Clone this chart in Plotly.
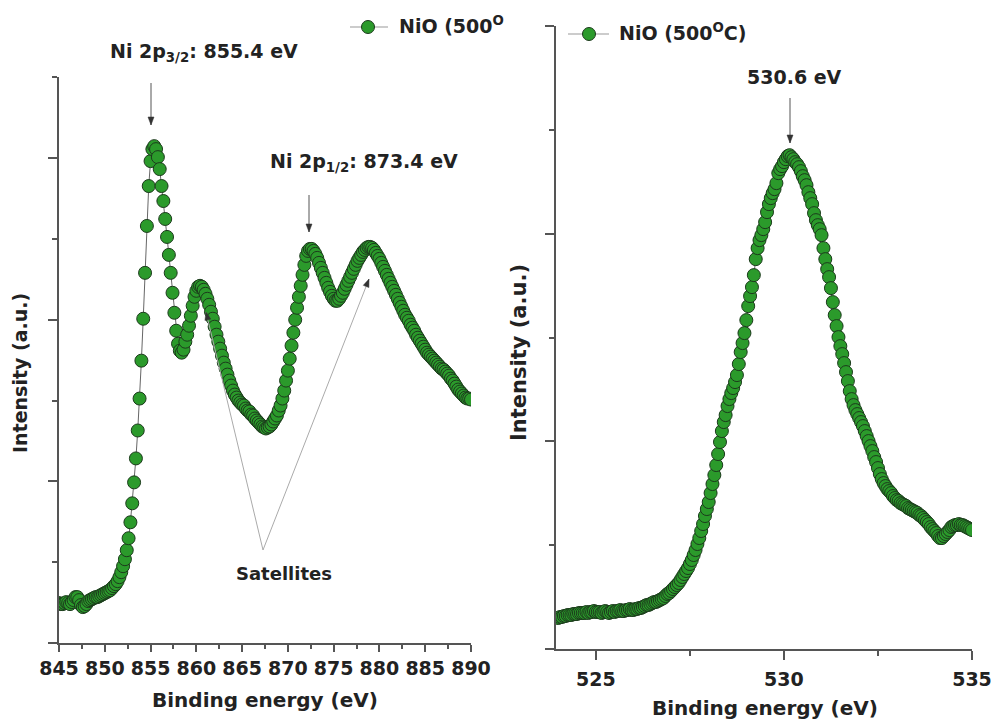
import math
import plotly.graph_objects as go

W, H = 993, 722
FONT = "DejaVu Sans"
TXT = "#222222"
AX = "#555555"

# ---------------- data ----------------
# Ni 2p region, binding energy grid 845.0 .. 890.0 eV (0.2 eV steps)
ni_start, ni_step = 845.0, 0.2
ni_intensity = [
    40, 39, 39, 40, 41, 40, 39, 41, 43, 46,
    46, 43, 38, 36, 37, 39, 42, 43, 44, 45,
    46, 46, 47, 48, 49, 50, 51, 52, 53, 55,
    57, 59, 62, 66, 71, 77, 84, 93, 105, 121,
    140, 161, 185, 213, 245, 283, 325, 371, 418, 458,
    483, 495, 498, 495, 487, 475, 458, 443, 425, 407,
    389, 371, 351, 331, 313, 300, 293, 291, 294, 302,
    309, 318, 328, 338, 347, 353, 357, 358, 357, 354,
    350, 345, 339, 332, 325, 317, 309, 302, 295, 288,
    281, 275, 269, 263, 258, 253, 249, 246, 243, 241,
    239, 238, 235, 233, 232, 229, 228, 225, 223, 221,
    219, 217, 216, 215, 216, 217, 219, 222, 225, 228,
    233, 238, 245, 253, 263, 273, 285, 298, 311, 324,
    336, 347, 358, 369, 379, 388, 393, 395, 395, 393,
    390, 386, 381, 376, 371, 366, 361, 356, 352, 348,
    345, 343, 343, 345, 348, 351, 355, 359, 363, 367,
    371, 375, 379, 383, 386, 389, 392, 394, 396, 397,
    397, 396, 394, 391, 388, 385, 381, 377, 373, 369,
    365, 361, 357, 353, 349, 345, 341, 337, 333, 329,
    326, 323, 319, 316, 313, 309, 306, 303, 300, 297,
    294, 291, 289, 287, 285, 283, 281, 279, 277, 275,
    274, 272, 270, 268, 265, 263, 260, 257, 254, 252,
    250, 248, 246, 245, 245, 244,
]
ni_energy = [round(ni_start + i * ni_step, 2) for i in range(len(ni_intensity))]

# O 1s region, binding energy grid 524.00 .. 535.00 eV (0.05 eV steps)
o_start, o_step = 524.0, 0.05
o_intensity = [
    31, 32, 32, 33, 33, 34, 34, 34, 35, 35, 35, 36, 36, 36, 36, 37, 36, 37, 37, 38,
    37, 37, 37, 36, 37, 38, 37, 36, 37, 38, 37, 38, 38, 39, 38, 38, 39, 39, 40, 39,
    39, 40, 40, 41, 41, 42, 43, 44, 44, 45, 46, 47, 47, 48, 49, 50, 51, 53, 55, 56,
    58, 60, 62, 64, 66, 69, 72, 75, 78, 81, 85, 89, 94, 99, 105, 111, 118, 125, 133, 140,
    147, 156, 165, 174, 184, 195, 207, 218, 227, 234, 243, 250, 256, 261, 267, 274, 285, 297, 306, 316,
    329, 343, 353, 362, 374, 390, 401, 409, 414, 420, 427, 437, 445, 451, 456, 460, 466, 476, 480, 483,
    487, 490, 493, 494, 492, 490, 487, 485, 482, 478, 473, 469, 464, 457, 451, 445, 436, 429, 424, 420,
    414, 401, 390, 380, 372, 361, 347, 334, 323, 312, 303, 295, 286, 277, 268, 258, 250, 244, 239, 235,
    231, 227, 223, 218, 213, 208, 203, 198, 192, 187, 181, 175, 170, 166, 163, 160, 158, 156, 153, 151,
    149, 148, 146, 145, 144, 143, 141, 140, 139, 138, 137, 136, 134, 133, 131, 129, 127, 125, 122, 120,
    118, 116, 113, 111, 111, 113, 115, 117, 119, 122, 123, 124, 124, 125, 124, 124, 123, 122, 121, 120,
    119,
]
o_energy = [round(o_start + i * o_step, 2) for i in range(len(o_intensity))]

legend_left = "NiO (500<sup>O</sup>"
legend_right = "NiO (500<sup>O</sup>C)"
x_title = "Binding energy (eV)"
y_title = "Intensity (a.u.)"

# ---------------- helpers ----------------
def px(x):
    return x / W

def py(y):
    return 1 - y / H

marker = dict(size=13, color="#2b9a2b", line=dict(color="#1c3a1c", width=1))
line = dict(color="#666666", width=1)

fig = go.Figure()
fig.add_trace(go.Scatter(x=ni_energy, y=ni_intensity, mode="lines+markers",
                         xaxis="x", yaxis="y", marker=marker, line=line,
                         name="NiO (500°C)", showlegend=False))
fig.add_trace(go.Scatter(x=o_energy, y=o_intensity, mode="lines+markers",
                         xaxis="x2", yaxis="y2", marker=marker, line=line,
                         name="NiO (500°C)", showlegend=False))

common = dict(showgrid=False, zeroline=False, showline=True, linecolor=AX,
              linewidth=2, ticks="outside", tickcolor=AX, tickwidth=1.5,
              automargin=False)
tickfont = dict(family=FONT, size=19, color=TXT, weight="bold")

fig.update_layout(
    template="none",
    width=W, height=H, margin=dict(l=0, r=0, t=0, b=0, autoexpand=False),
    paper_bgcolor="white", plot_bgcolor="white", showlegend=False,
    xaxis=dict(domain=[px(59), px(471)], range=[845, 890], tick0=845, dtick=5,
               ticklen=7, anchor="y", tickfont=tickfont,
               minor=dict(dtick=2.5, ticklen=4, ticks="outside", tickcolor=AX, tickwidth=1.5),
               **common),
    yaxis=dict(domain=[py(643), py(77)], range=[0, 567.3], tick0=0, dtick=162,
               ticklen=9, anchor="x", showticklabels=False,
               minor=dict(dtick=81, ticklen=5, ticks="outside", tickcolor=AX, tickwidth=1.5),
               **common),
    xaxis2=dict(domain=[px(556), px(972)], range=[523.94, 535], tick0=525, dtick=5,
                ticklen=9, anchor="y2", tickfont=tickfont, ticklabelstandoff=3,
                minor=dict(dtick=2.5, ticklen=5, ticks="outside", tickcolor=AX, tickwidth=1.5),
                **common),
    yaxis2=dict(domain=[py(649), py(26)], range=[0, 623.2], tick0=0, dtick=207.6,
                ticklen=9, anchor="x2", showticklabels=False,
                minor=dict(dtick=103.8, ticklen=5, ticks="outside", tickcolor=AX, tickwidth=1.5),
                **common),
)

ann = []
def text(t, x, y, size, xanchor="center", angle=0):
    ann.append(dict(text=t, x=px(x), y=py(y), xref="paper", yref="paper",
                    xanchor=xanchor, yanchor="middle", showarrow=False,
                    textangle=angle,
                    font=dict(family=FONT, size=size, color=TXT, weight="bold")))

text("Ni 2p<sub>3/2</sub>: 855.4 eV", 204, 53, 19)
text("Ni 2p<sub>1/2</sub>: 873.4 eV", 364, 163, 19)
text("Satellites", 284, 573, 18)
text("530.6 eV", 794, 77, 19)
text(x_title, 265, 700, 20)
text(x_title, 765, 708, 20)
text(y_title, 20, 373, 19, angle=-90)
text(y_title, 519, 353, 21, angle=-90)
text(legend_left, 397, 25, 19, xanchor="left")
text(legend_right, 617, 32, 19, xanchor="left")
fig.update_layout(annotations=ann)

shapes = []
def arrow(hx, hy, tx, ty, color, head_color):
    # shaft
    shapes.append(dict(type="line", xref="paper", yref="paper",
                       x0=px(tx), y0=py(ty), x1=px(hx), y1=py(hy),
                       line=dict(color=color, width=1)))
    # arrow head (small filled triangle)
    d = math.hypot(hx - tx, hy - ty)
    ux, uy = (hx - tx) / d, (hy - ty) / d
    L, Wd = 8, 3
    bx, by = hx - ux * L, hy - uy * L
    p1 = (bx - uy * Wd, by + ux * Wd)
    p2 = (bx + uy * Wd, by - ux * Wd)
    path = "M {} {} L {} {} L {} {} Z".format(
        px(hx), py(hy), px(p1[0]), py(p1[1]), px(p2[0]), py(p2[1]))
    shapes.append(dict(type="path", xref="paper", yref="paper", path=path,
                       fillcolor=head_color, line=dict(color=head_color, width=0.5)))

arrow(151, 125, 151, 83, "#555555", "#333333")
arrow(309, 232, 309, 195, "#555555", "#333333")
arrow(206, 312, 263, 550, "#aaaaaa", "#333333")
arrow(369, 279, 263, 550, "#aaaaaa", "#333333")
arrow(790, 143, 790, 98, "#555555", "#333333")

for (x0, x1, xm, yc) in [(350, 388, 368, 27), (568, 609, 589, 34)]:
    shapes.append(dict(type="line", xref="paper", yref="paper",
                       x0=px(x0), x1=px(x1), y0=py(yc), y1=py(yc),
                       line=dict(color="#999999", width=1)))
    shapes.append(dict(type="circle", xref="paper", yref="paper",
                       xsizemode="pixel", ysizemode="pixel",
                       xanchor=px(xm), yanchor=py(yc),
                       x0=-6.5, x1=6.5, y0=-6.5, y1=6.5,
                       fillcolor="#2b9a2b", line=dict(color="#1c3a1c", width=1)))
fig.update_layout(shapes=shapes)

fig.write_html("out.html")
